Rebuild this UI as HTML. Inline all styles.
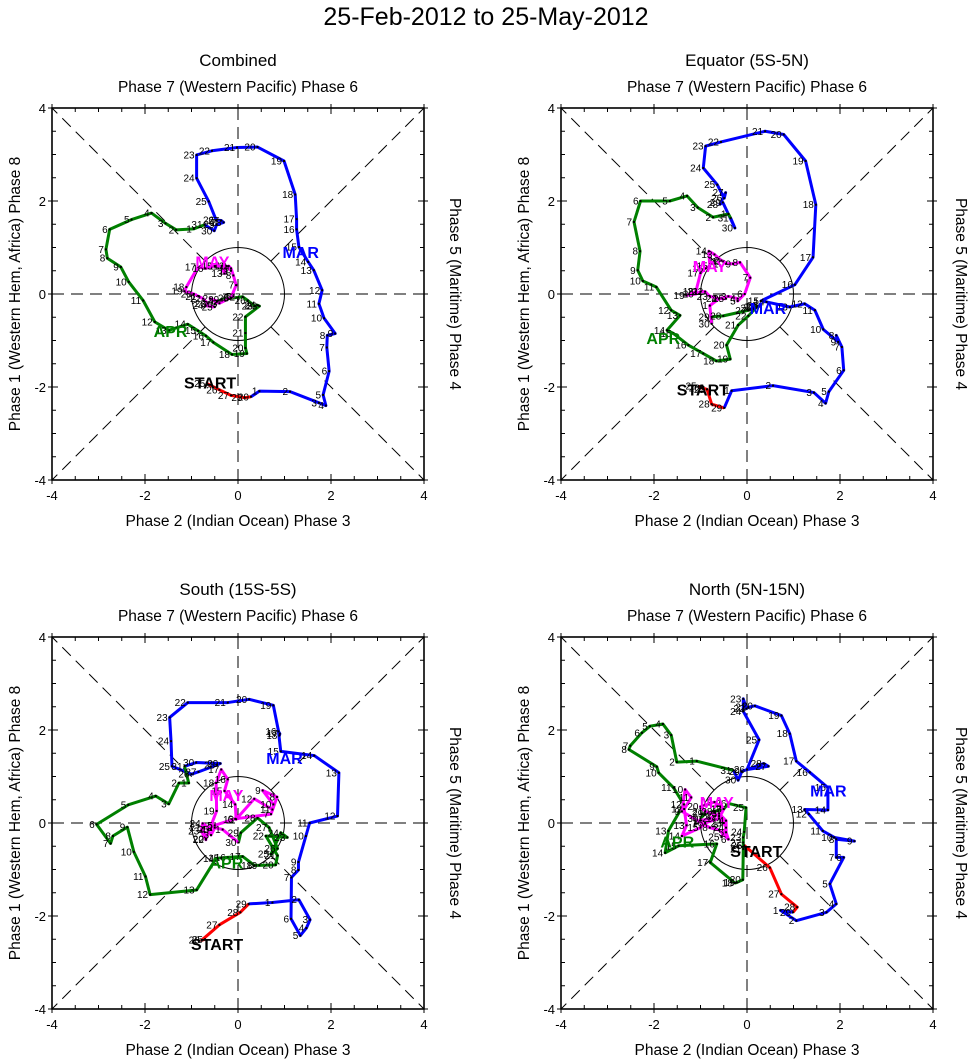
<!DOCTYPE html>
<html><head><meta charset="utf-8"><style>
html,body{margin:0;padding:0;background:#fff;}
svg{display:block;font-family:"Liberation Sans",Arial,sans-serif;}
</style></head><body>
<svg id="chart" width="971" height="1061" viewBox="0 0 971 1061" xmlns="http://www.w3.org/2000/svg">
<text x="486" y="25" text-anchor="middle" font-size="25">25-Feb-2012 to 25-May-2012</text>
</svg>
<script>
const ticks = [-4,-2,0,2,4];
const febDays = [25,26,27,28,29];
const marDays = [1,2,3,4,5,6,7,8,9,10,11,12,13,14,15,16,17,18,19,20,21,22,23,24,25,26,27,28,29,30,31];
const aprDays = [1,2,3,4,5,6,7,8,9,10,11,12,13,14,15,16,17,18,19,20,21,22,23,24,25,26,27,28,29,30];
const mayDays = [1,2,3,4,5,6,7,8,9,10,11,12,13,14,15,16,17,18,19,20,21,22,23,24,25];

const combFeb = [[-0.66,-1.93],[-0.40,-2.06],[-0.15,-2.18],[0.14,-2.23],[0.28,-2.21]];
const combMar = [[0.46,-2.09],[1.12,-2.10],[1.74,-2.34],[1.89,-2.40],[1.83,-2.17],[1.96,-1.66],[1.91,-1.15],[1.92,-0.89],[2.09,-0.85],[1.85,-0.52],[1.74,-0.21],[1.81,0.08],[1.63,0.51],[1.51,0.69],[1.31,1.01],[1.26,1.39],[1.26,1.61],[1.23,2.14],[0.99,2.86],[0.42,3.16],[-0.02,3.15],[-0.56,3.08],[-0.89,2.99],[-0.89,2.49],[-0.63,1.99],[-0.47,1.59],[-0.36,1.58],[-0.31,1.54],[-0.46,1.49],[-0.51,1.36],[-0.72,1.49]];
const combApr = [[-0.95,1.40],[-1.33,1.38],[-1.56,1.52],[-1.86,1.74],[-2.29,1.60],[-2.76,1.39],[-2.84,0.96],[-2.81,0.77],[-2.52,0.58],[-2.35,0.26],[-2.04,-0.14],[-1.79,-0.60],[-1.49,-0.78],[-1.08,-0.65],[-0.86,-0.79],[-0.69,-0.90],[-0.53,-1.04],[-0.13,-1.30],[0.19,-1.28],[0.16,-1.16],[0.16,-0.84],[0.16,-0.49],[0.46,-0.26],[0.42,-0.24],[0.36,-0.26],[0.21,-0.14],[0.10,-0.06],[-0.15,-0.09],[-0.36,-0.12],[-0.50,-0.22]];
const combMay = [[-0.45,-0.15],[-0.6,-0.1],[-0.4,-0.2],[-0.2,-0.1],[-0.1,-0.05],[-0.15,-0.08],[-0.04,0.19],[-0.1,0.4],[-0.15,0.55],[-0.2,0.6],[-0.15,0.5],[-0.25,0.6],[-0.29,0.44],[-0.35,0.6],[-0.5,0.6],[-0.7,0.55],[-0.86,0.58],[-1.11,0.15],[-1.15,0.06],[-0.95,0.0],[-0.85,-0.05],[-0.75,-0.1],[-0.65,-0.2],[-0.7,-0.25],[-0.5,-0.28]];

const equFeb = [[-1.04,-1.98],[-0.97,-2.02],[-0.86,-2.05],[-0.76,-2.37],[-0.49,-2.45]];
const equMar = [[-0.33,-2.08],[0.56,-1.97],[1.44,-2.12],[1.69,-2.35],[1.76,-2.10],[2.08,-1.64],[2.04,-1.14],[1.92,-0.89],[1.96,-1.03],[1.64,-0.76],[1.46,-0.35],[1.24,-0.21],[0.92,-0.28],[0.42,-0.17],[0.30,-0.15],[1.03,0.20],[1.42,0.79],[1.48,1.92],[1.26,2.86],[0.79,3.43],[0.39,3.50],[-0.56,3.27],[-0.89,3.18],[-0.94,2.71],[-0.64,2.35],[-0.49,2.06],[-0.46,2.18],[-0.58,1.93],[-0.52,1.97],[-0.26,1.42],[-0.35,1.63]];
const equApr = [[-0.40,1.72],[-0.73,1.65],[-1.06,1.86],[-1.29,2.11],[-1.66,2.00],[-2.29,2.00],[-2.43,1.55],[-2.30,0.92],[-2.35,0.51],[-2.24,0.28],[-1.95,0.15],[-1.63,-0.35],[-1.44,-0.46],[-1.72,-0.78],[-1.58,-0.85],[-1.26,-1.10],[-0.94,-1.28],[-0.66,-1.44],[-0.36,-1.40],[-0.44,-1.10],[-0.19,-0.67],[0.03,-0.47],[0.21,-0.28],[0.25,-0.27],[0.28,-0.25],[0.14,-0.30],[0.03,-0.35],[-0.51,-0.47],[-0.76,-0.49],[-0.76,-0.64]];
const equMay = [[-0.8,-0.25],[-0.6,-0.1],[-0.4,-0.05],[-0.2,-0.1],[-0.2,-0.15],[-0.05,0.0],[0.07,0.35],[-0.15,0.68],[-0.3,0.65],[-0.45,0.65],[-0.5,0.7],[-0.55,0.72],[-0.7,0.85],[-0.82,0.92],[-0.8,0.6],[-0.9,0.55],[-1.0,0.45],[-1.1,0.05],[-1.3,-0.03],[-1.1,0.0],[-1.0,0.05],[-0.9,0.05],[-0.8,-0.05],[-0.6,-0.1],[-0.45,-0.1]];

const souFeb = [[-0.71,-2.50],[-0.78,-2.52],[-0.40,-2.19],[0.05,-1.92],[0.23,-1.74]];
const souMar = [[0.74,-1.71],[1.31,-1.65],[1.55,-2.08],[1.47,-2.26],[1.34,-2.42],[1.14,-2.06],[1.15,-1.17],[1.30,-1.01],[1.30,-0.84],[1.46,-0.28],[1.54,0.0],[2.14,0.15],[2.17,1.08],[1.64,1.45],[0.92,1.54],[0.87,1.97],[0.90,1.92],[0.89,1.88],[0.76,2.53],[0.24,2.66],[-0.22,2.59],[-1.08,2.59],[-1.47,2.27],[-1.44,1.76],[-1.42,1.22],[-1.0,1.05],[-0.85,1.1],[-0.45,1.25],[-0.38,1.28],[-0.9,1.3],[-1.15,1.22]];
const souApr = [[-1.06,0.86],[-1.27,0.86],[-1.49,0.41],[-1.77,0.58],[-2.36,0.39],[-3.04,-0.03],[-2.74,-0.44],[-2.69,-0.28],[-2.38,-0.09],[-2.24,-0.62],[-1.99,-1.15],[-1.89,-1.54],[-0.89,-1.44],[-0.47,-0.76],[-0.36,-0.75],[-0.22,-0.74],[0.10,-0.72],[0.35,-0.91],[0.46,-0.91],[0.81,-0.90],[0.85,-0.70],[0.60,-0.28],[1.06,-0.31],[0.92,-0.21],[0.71,-0.67],[0.85,-0.55],[0.67,-0.10],[0.42,0.11],[0.06,-0.21],[0.01,-0.42]];
const souMay = [[-0.33,-0.14],[-0.5,-0.1],[-0.58,-0.26],[-0.65,-0.14],[-0.5,-0.05],[-0.06,0.09],[0.71,0.19],[0.84,0.56],[0.53,0.70],[0.76,0.40],[0.74,0.29],[0.35,0.52],[-0.04,0.08],[-0.06,0.40],[-0.29,0.69],[-0.22,0.94],[-0.36,1.15],[-0.47,0.86],[-0.46,0.26],[-0.69,-0.34],[-0.76,-0.10],[-0.69,-0.36],[-0.79,-0.17],[-0.76,-0.01],[-0.58,-0.14]];

const norFeb = [[-0.06,-0.48],[0.49,-0.96],[0.74,-1.53],[1.08,-1.81],[0.99,-1.92]];
const norMar = [[0.72,-1.88],[1.06,-2.10],[1.71,-1.92],[1.92,-1.74],[1.78,-1.31],[2.08,-0.74],[1.92,-0.74],[1.92,-0.35],[2.31,-0.39],[1.88,-0.31],[1.63,-0.17],[1.33,0.19],[1.24,0.29],[1.74,0.28],[1.74,0.76],[1.35,1.09],[1.06,1.33],[0.92,1.92],[0.74,2.31],[0.17,2.52],[0.03,2.49],[-0.01,2.46],[-0.08,2.67],[-0.08,2.40],[0.26,1.79],[0.0,1.15],[0.46,1.22],[0.36,1.28],[-0.11,1.11],[-0.19,0.92],[-0.29,1.13]];
const norApr = [[-1.08,1.33],[-1.51,1.31],[-1.63,1.89],[-1.81,2.13],[-2.09,2.08],[-2.26,1.94],[-2.51,1.66],[-2.54,1.58],[-1.94,1.21],[-1.90,1.08],[-1.58,0.76],[-1.36,0.40],[-1.69,-0.17],[-1.76,-0.64],[-1.47,-0.49],[-0.65,-0.45],[-0.79,-0.85],[-0.26,-1.29],[-0.22,-1.28],[-0.09,-1.22],[-0.08,-0.56],[-0.08,-0.42],[-0.08,-0.31],[-0.06,-0.19],[-0.02,0.33],[-0.4,0.42],[-0.5,0.3],[-0.7,0.25],[-0.9,0.2],[-1.0,0.1]];
const norMay = [[-1.0,0.05],[-0.8,0.1],[-0.6,0.2],[-0.45,0.05],[-0.45,-0.2],[-0.4,-0.35],[-0.6,-0.15],[-0.8,-0.1],[-1.4,0.25],[-1.33,0.72],[-1.2,0.55],[-1.35,0.3],[-1.3,-0.05],[-1.4,-0.28],[-1.0,-0.1],[-0.9,0.0],[-0.6,0.1],[-0.5,0.3],[-0.7,0.45],[-1.0,0.35],[-0.9,0.25],[-0.6,0.15],[-0.5,0.0],[-0.45,-0.1],[-0.55,-0.3]];

const panels = [
 {name:'combined', title:'Combined', ox:52, oy:108, rt:26, feb:combFeb, mar:combMar, apr:combApr, may:combMay,
  lab:{START:[-0.6,-1.9], MAR:[1.35,0.9], APR:[-1.45,-0.8], MAY:[-0.55,0.7]}},
 {name:'equator', title:'Equator (5S-5N)', ox:561, oy:108, rt:23, feb:equFeb, mar:equMar, apr:equApr, may:equMay,
  lab:{START:[-0.95,-2.05], MAR:[0.45,-0.3], APR:[-1.8,-0.95], MAY:[-0.8,0.6]}},
 {name:'south', title:'South (15S-5S)', ox:52, oy:637, rt:26, feb:souFeb, mar:souMar, apr:souApr, may:souMay,
  lab:{START:[-0.45,-2.6], MAR:[1.0,1.4], APR:[-0.25,-0.85], MAY:[-0.25,0.6]}},
 {name:'north', title:'North (5N-15N)', ox:561, oy:637, rt:23, feb:norFeb, mar:norMar, apr:norApr, may:norMay,
  lab:{START:[0.2,-0.6], MAR:[1.75,0.7], APR:[-1.5,-0.4], MAY:[-0.65,0.45]}}
];

const NS='http://www.w3.org/2000/svg';
const svg=document.getElementById('chart');
const W=372, U=W/8;
function mk(tag,attrs,parent){const e=document.createElementNS(NS,tag);for(const k in attrs)e.setAttribute(k,attrs[k]);(parent||svg).appendChild(e);return e;}

panels.forEach(p=>{
  const g=mk('g',{});
  
  
  const sx=v=>p.ox+(v+4)*U, sy=v=>p.oy+(4-v)*U;
  const cx=sx(0), cy=sy(0);
  let t=mk('text',{x:cx,y:p.oy-42,'text-anchor':'middle','font-size':17},g); t.textContent=p.title;
   
  t=mk('text',{x:cx,y:p.oy-16,'text-anchor':'middle','font-size':15.5},g); t.textContent='Phase 7 (Western Pacific) Phase 6';
   
  t=mk('text',{x:cx,y:p.oy+W+46,'text-anchor':'middle','font-size':15.5},g); t.textContent='Phase 2 (Indian Ocean) Phase 3';
   
  t=mk('text',{x:0,y:0,'text-anchor':'middle','font-size':15.5,transform:`translate(${p.ox-32},${cy}) rotate(-90)`},g); t.textContent='Phase 1 (Western Hem, Africa) Phase 8';
   
  t=mk('text',{x:0,y:0,'text-anchor':'middle','font-size':15.5,transform:`translate(${p.ox+W+p.rt},${cy}) rotate(90)`},g); t.textContent='Phase 5 (Maritime) Phase 4';
   
  const dash={stroke:'#000','stroke-width':1,'stroke-dasharray':'12,7',fill:'none'};
  mk('line',Object.assign({x1:cx,y1:p.oy,x2:cx,y2:p.oy+W},dash),g);
  mk('line',Object.assign({x1:p.ox,y1:cy,x2:p.ox+W,y2:cy},dash),g);
  const r=U, d=r/Math.SQRT2;
  [[1,1],[1,-1],[-1,1],[-1,-1]].forEach(([a,b])=>{
    mk('line',Object.assign({x1:cx+a*d,y1:cy+b*d,x2:cx+a*W/2,y2:cy+b*W/2},dash),g);
  });
  mk('circle',{cx:cx,cy:cy,r:r,fill:'none',stroke:'#000','stroke-width':1},g);
  const box=mk('rect',{x:p.ox,y:p.oy,width:W,height:W,fill:'none',stroke:'#000','stroke-width':1.6},g);
   
  for(let v=-4; v<=4.001; v+=0.5){
    const major=Math.abs(v%2)<0.01;
    const L=major?6:4;
    const X=sx(v), Y=sy(v);
    mk('line',{x1:X,y1:p.oy+W+(major?4:0),x2:X,y2:p.oy+W-L,stroke:'#000','stroke-width':1},g);
    mk('line',{x1:X,y1:p.oy-(major?4:0),x2:X,y2:p.oy+L,stroke:'#000','stroke-width':1},g);
    mk('line',{x1:p.ox-(major?4:0),y1:Y,x2:p.ox+L,y2:Y,stroke:'#000','stroke-width':1},g);
    mk('line',{x1:p.ox+W+(major?4:0),y1:Y,x2:p.ox+W-L,y2:Y,stroke:'#000','stroke-width':1},g);
  }
  ticks.forEach(v=>{
    let tx=mk('text',{x:sx(v),y:p.oy+W+20,'text-anchor':'middle','font-size':13},g); tx.textContent=v;
     
    let ty=mk('text',{x:p.ox-6,y:sy(v)+5,'text-anchor':'end','font-size':13},g); ty.textContent=v;
     
  });
  const months=[['feb',p.feb,febDays,'#ff0000',null],['mar',p.mar,marDays,'#0000ff',p.feb],['apr',p.apr,aprDays,'#008000',p.mar],['may',p.may,mayDays,'#ff00ff',p.apr]];
  months.forEach(([m,pts,days,col,prev])=>{
    const all=prev?[prev[prev.length-1]].concat(pts):pts;
    const line=mk('polyline',{points:all.map(q=>sx(q[0])+','+sy(q[1])).join(' '),fill:'none',stroke:col,'stroke-width':3,'stroke-linejoin':'round'},g);
    
    
  });
  months.forEach(([m,pts,days])=>{
    pts.forEach((q,i)=>{
      const dot=mk('rect',{x:sx(q[0])-1,y:sy(q[1])-1,width:2,height:2,fill:'#000'},g);
      
      
      const lt=mk('text',{x:sx(q[0])-2,y:sy(q[1])+3.5,'text-anchor':'end','font-size':10},g);
      lt.textContent=days[i];
      
      
    });
  });
  const labCol={START:'#000',MAR:'#0000ff',APR:'#008000',MAY:'#ff00ff'};
  for(const k in p.lab){
    const lb=mk('text',{x:sx(p.lab[k][0]),y:sy(p.lab[k][1])+6,'text-anchor':'middle','font-size':16,'font-weight':'bold',fill:labCol[k]},g);
    lb.textContent=k;
    
    
  }
});
</script>
</body></html>
